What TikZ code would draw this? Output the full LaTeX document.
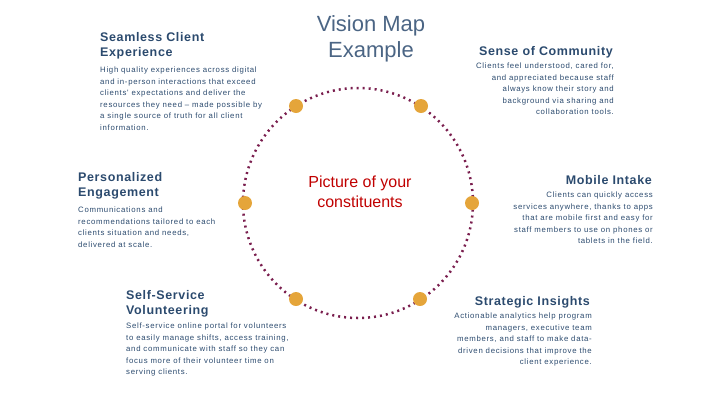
\documentclass[tikz,border=0pt]{standalone}
\usepackage{fontspec}
\setmainfont{Liberation Sans}
\newfontfamily\bodyfont[LetterSpace=9]{Liberation Sans}
\newfontfamily\ttlfont[LetterSpace=5]{Liberation Sans}
\begin{document}
\begin{tikzpicture}[x=1pt,y=-1pt,
  ttl/.style={text=titleblue,font=\ttlfont\bfseries\fontsize{12.5}{15.5}\selectfont,inner sep=0},
  bdy/.style={text=titleblue,font=\bodyfont\fontsize{7.8}{11.5}\selectfont,inner sep=0},
  dot/.style={circle,fill=dotorange,minimum size=14pt,inner sep=0}]
\definecolor{titleblue}{HTML}{2B4A6E}
\definecolor{dotorange}{HTML}{E5A53A}
\definecolor{ringpurple}{HTML}{7A1E4E}
\definecolor{redtxt}{HTML}{C00000}
\useasboundingbox (0,0) rectangle (720,405);
\node[circle,draw=ringpurple,line width=2.5pt,dash pattern=on 2pt off 4pt,minimum size=230pt,inner sep=0] (ring) at (358,203) {};
\node[dot] (d1) at (296,106) {};
\node[dot] (d2) at (421,106) {};
\node[dot] (d3) at (245,203) {};
\node[dot] (d4) at (472,203) {};
\node[dot] (d5) at (296,299) {};
\node[dot] (d6) at (420,299) {};
\node[text=titleblue!85!white,font=\fontsize{22}{26}\selectfont,align=center,inner sep=0] (title) at (371,39) {Vision Map\\Example};
\node[text=redtxt,font=\fontsize{16}{19.5}\selectfont,align=center,inner sep=0] (center) at (360,192) {Picture of your\\constituents};
\node[ttl,align=left,anchor=north west] (t1) at (100,32) {Seamless Client\\Experience};
\node[bdy,align=left,anchor=north west] (b1) at (100,67) {High quality experiences across digital\\and in-person interactions that exceed\\clients' expectations and deliver the\\resources they need \textendash{} made possible by\\a single source of truth for all client\\information.};
\node[ttl,anchor=north east] (t2) at (613,46) {Sense of Community};
\node[bdy,align=right,anchor=north east] (b2) at (614,63) {Clients feel understood, cared for,\\and appreciated because staff\\always know their story and\\background via sharing and\\collaboration tools.};
\node[ttl,align=left,anchor=north west] (t3) at (78,172) {Personalized\\Engagement};
\node[bdy,align=left,anchor=north west] (b3) at (78,207) {Communications and\\recommendations tailored to each\\clients situation and needs,\\delivered at scale.};
\node[ttl,anchor=north east] (t4) at (652,175) {Mobile Intake};
\node[bdy,align=right,anchor=north east] (b4) at (653,192) {Clients can quickly access\\services anywhere, thanks to apps\\that are mobile first and easy for\\staff members to use on phones or\\tablets in the field.};
\node[ttl,align=left,anchor=north west] (t5) at (126,290) {Self-Service\\Volunteering};
\node[bdy,align=left,anchor=north west] (b5) at (126,323) {Self-service online portal for volunteers\\to easily manage shifts, access training,\\and communicate with staff so they can\\focus more of their volunteer time on\\serving clients.};
\node[ttl,anchor=north east] (t6) at (590,296) {Strategic Insights};
\node[bdy,align=right,anchor=north east] (b6) at (592,313) {Actionable analytics help program\\managers, executive team\\members, and staff to make data-\\driven decisions that improve the\\client experience.};
\end{tikzpicture}
\end{document}
